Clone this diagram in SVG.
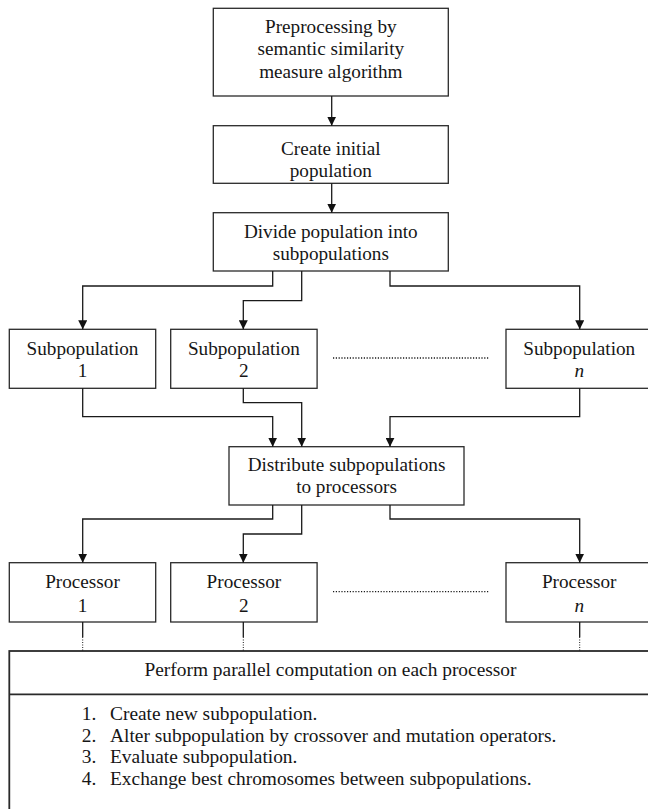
<svg xmlns="http://www.w3.org/2000/svg" width="648" height="809" viewBox="0 0 648 809">
  <style>
    .box { fill: #ffffff; stroke: #2a2a2a; stroke-width: 1.3; }
    .big { fill: #ffffff; stroke: #2a2a2a; stroke-width: 1.8; }
    text { font-family: 'Liberation Serif', 'DejaVu Serif', 'Noto Serif', Tinos, Times, serif; fill: #161616; }
    .t { font-size: 19.2px; text-anchor: middle; }
    .h { font-size: 19.4px; text-anchor: middle; }
    .l { font-size: 19.4px; }
    .it { font-style: italic; }
    .edge { fill: none; stroke: #1a1a1a; stroke-width: 1.3; marker-end: url(#arr); }
    .stub { fill: none; stroke: #1a1a1a; stroke-width: 1.3; }
    .dots { fill: none; stroke: #1a1a1a; stroke-width: 1.3; stroke-dasharray: 1.2 1.6; }
    .fine { fill: none; stroke: #1a1a1a; stroke-width: 1; stroke-dasharray: 1 1.5; }
  </style>
  <defs>
    <marker id="arr" viewBox="0 0 10 10" refX="10" refY="5" markerWidth="9" markerHeight="9" orient="auto" markerUnits="userSpaceOnUse">
      <path d="M0,0 L10,5 L0,10 z" fill="#111"/>
    </marker>
  </defs>

  <rect width="648" height="809" fill="#ffffff"/>

  <g id="preprocess">
    <rect class="box" x="213.3" y="8.3" width="235" height="87.7"/>
    <text class="t" x="330.8" y="33.3">Preprocessing by</text>
    <text class="t" x="330.8" y="55.3">semantic similarity</text>
    <text class="t" x="330.8" y="77.5">measure algorithm</text>
  </g>

  <g id="create-initial">
    <rect class="box" x="213.3" y="125.7" width="235" height="57.6"/>
    <text class="t" x="330.8" y="155">Create initial</text>
    <text class="t" x="330.8" y="177">population</text>
  </g>

  <g id="divide">
    <rect class="box" x="213.3" y="212.7" width="235" height="58.3"/>
    <text class="t" x="330.8" y="238.3">Divide population into</text>
    <text class="t" x="330.8" y="260">subpopulations</text>
  </g>

  <g id="subpop-1">
    <rect class="box" x="9.3" y="329.3" width="146.4" height="59"/>
    <text class="t" x="82.5" y="355">Subpopulation</text>
    <text class="t" x="82.5" y="377">1</text>
  </g>

  <g id="subpop-2">
    <rect class="box" x="170.7" y="329.3" width="146.4" height="59"/>
    <text class="t" x="243.9" y="355">Subpopulation</text>
    <text class="t" x="243.9" y="377">2</text>
  </g>

  <g id="subpop-n">
    <rect class="box" x="506" y="329.3" width="146.4" height="59"/>
    <text class="t" x="579.2" y="355">Subpopulation</text>
    <text class="t it" x="579.2" y="377">n</text>
  </g>

  <g id="distribute">
    <rect class="box" x="229" y="446.7" width="235" height="58.3"/>
    <text class="t" x="346.5" y="471">Distribute subpopulations</text>
    <text class="t" x="346.5" y="492.7">to processors</text>
  </g>

  <g id="processor-1">
    <rect class="box" x="9.3" y="562.7" width="146.4" height="59.3"/>
    <text class="t" x="82.5" y="588.3">Processor</text>
    <text class="t" x="82.5" y="611.7">1</text>
  </g>

  <g id="processor-2">
    <rect class="box" x="170.7" y="562.7" width="146.4" height="59.3"/>
    <text class="t" x="243.9" y="588.3">Processor</text>
    <text class="t" x="243.9" y="611.7">2</text>
  </g>

  <g id="processor-n">
    <rect class="box" x="506" y="562.7" width="146.4" height="59.3"/>
    <text class="t" x="579.2" y="588.3">Processor</text>
    <text class="t it" x="579.2" y="611.7">n</text>
  </g>

  <g id="parallel-computation">
    <rect class="big" x="9.3" y="651" width="660" height="180"/>
    <line class="big" x1="9.3" y1="694.3" x2="660" y2="694.3"/>
    <text class="h" x="330.5" y="676">Perform parallel computation on each processor</text>
    <text class="l" x="81.7" y="720">1.</text>
    <text class="l" x="110" y="720">Create new subpopulation.</text>
    <text class="l" x="81.7" y="741.7">2.</text>
    <text class="l" x="110" y="741.7">Alter subpopulation by crossover and mutation operators.</text>
    <text class="l" x="81.7" y="763.3">3.</text>
    <text class="l" x="110" y="763.3">Evaluate subpopulation.</text>
    <text class="l" x="81.7" y="785">4.</text>
    <text class="l" x="110" y="785">Exchange best chromosomes between subpopulations.</text>
  </g>

  <g id="ellipses">
    <line class="dots" x1="333" y1="358" x2="488.7" y2="358"/>
    <line class="dots" x1="333" y1="591.7" x2="488.7" y2="591.7"/>
  </g>

  <g id="connectors">
    <path class="edge" d="M331.7,96 V125.7"/>
    <path class="edge" d="M331.7,183.3 V212.7"/>
    <path class="edge" d="M272.7,271 V286 H82.7 V329.3"/>
    <path class="edge" d="M301.7,271 V300.7 H243.3 V329.3"/>
    <path class="edge" d="M390,271 V286 H579.7 V329.3"/>
    <path class="edge" d="M82.7,388.3 V416.7 H272.7 V446.7"/>
    <path class="edge" d="M243.3,388.3 V402.7 H301.7 V446.7"/>
    <path class="edge" d="M579.7,388.3 V416.7 H390 V446.7"/>
    <path class="edge" d="M272.7,505 V519 H82.7 V562.7"/>
    <path class="edge" d="M301.7,505 V534 H243.3 V562.7"/>
    <path class="edge" d="M390,505 V519 H579.7 V562.7"/>
    <path class="stub" d="M82.7,622 V637 M243.3,622 V637 M579.7,622 V637"/>
    <path class="fine" d="M82.7,637 V651 M243.3,637 V651 M579.7,637 V651"/>
  </g>
</svg>
